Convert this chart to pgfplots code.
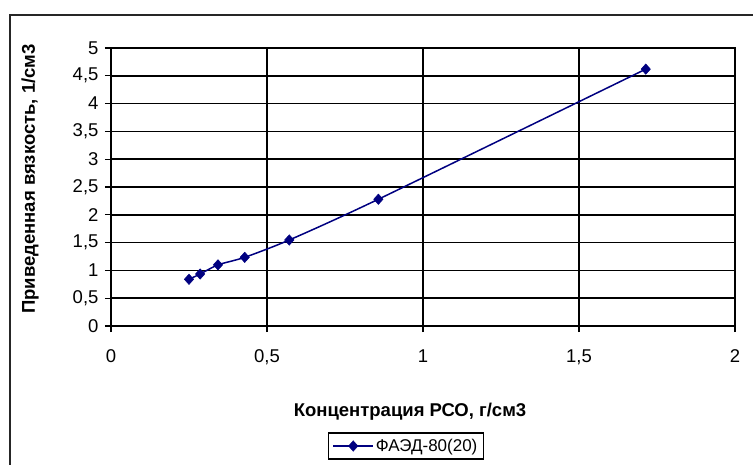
\documentclass[border=0pt]{standalone}
\usepackage{pgfplots}
\pgfplotsset{compat=1.18}
\usepackage{fontspec}
\setmainfont{Liberation Sans}
\definecolor{navyx}{RGB}{0,0,128}
\begin{document}
\begin{tikzpicture}[x=1pt,y=1pt]
\useasboundingbox (-111,-138) rectangle (642,326);
\draw[line width=1.3pt,black!85] (-101,-140) -- (-101,311) -- (645,311);
\begin{axis}[
  at={(0,0)}, anchor=origin,
  scale only axis, width=624pt, height=278pt,
  xmin=0, xmax=2, ymin=0, ymax=5,
  xtick={0,0.5,1,1.5,2}, ytick={0,0.5,1,1.5,2,2.5,3,3.5,4,4.5,5},
  xmajorgrids, ymajorgrids,
  major grid style={black, line width=1.5pt},
  axis line style={black, line width=1.5pt},
  tick style={black, line width=1.2pt},
  tick align=outside, major tick length=6pt,
  xtick pos=left, ytick pos=left,
  /pgf/number format/use comma,
  /pgf/number format/assume math mode=true,
  ticklabel style={font=\fontsize{18.5}{20}\selectfont},
  xticklabel style={yshift=-14pt},
  yticklabel style={xshift=-3pt},
  xlabel={\textbf{Концентрация РСО, г/см3}},
  ylabel={\textbf{Приведенная вязкость, 1/см3}},
  label style={font=\fontsize{18.5}{20}\selectfont},
  every axis x label/.append style={at={(299pt,-86pt)}, anchor=center},
  every axis y label/.append style={at={(-81pt,147pt)}, anchor=center},
  legend style={at={(295pt,-120pt)}, anchor=center, draw=black, line width=1.2pt,
    font=\fontsize{17}{20}\selectfont, inner sep=4pt},
  legend image code/.code={
    \draw[mark repeat=2,mark phase=2,#1] plot coordinates {(0cm,0cm) (0.7cm,0cm) (1.4cm,0cm)};},
  legend cell align=left,
  clip=false,
]
\addplot[navyx, line width=1.5pt, smooth, tension=0.4, mark=diamond*, mark size=5.2pt,
  mark options={fill=navyx, draw=navyx, line width=0.5pt, xscale=1.2}]
  coordinates {(0.25,0.84) (0.2857,0.935) (0.3429,1.10) (0.4286,1.235) (0.5714,1.547) (0.857,2.28) (1.714,4.62)};
\addlegendentry{ФАЭД-80(20)}
\end{axis}
\end{tikzpicture}
\end{document}
